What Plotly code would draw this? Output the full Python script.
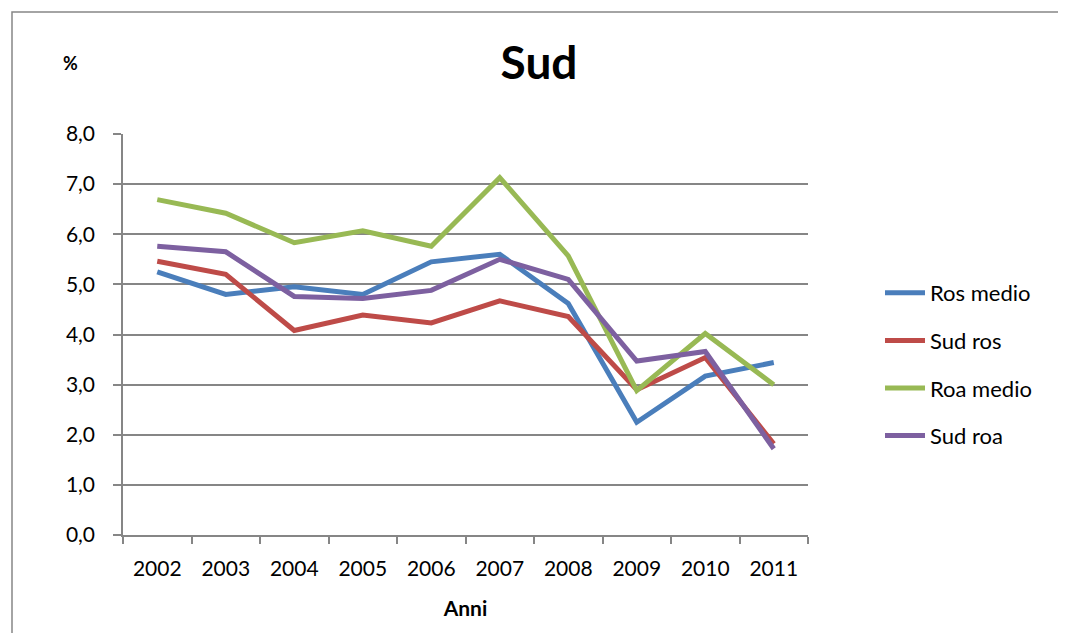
import plotly.graph_objects as go

years = ['2002', '2003', '2004', '2005', '2006', '2007', '2008', '2009', '2010', '2011']

ros_medio = [5.25, 4.80, 4.95, 4.80, 5.45, 5.60, 4.62, 2.25, 3.17, 3.44]
sud_ros = [5.46, 5.20, 4.08, 4.39, 4.23, 4.67, 4.36, 2.90, 3.54, 1.82]
roa_medio = [6.69, 6.42, 5.83, 6.07, 5.76, 7.13, 5.57, 2.88, 4.02, 3.00]
sud_roa = [5.76, 5.65, 4.76, 4.72, 4.88, 5.50, 5.10, 3.47, 3.66, 1.72]

series = [
    ('Ros medio', ros_medio, '#4A7EBB'),
    ('Sud ros', sud_ros, '#BE4B48'),
    ('Roa medio', roa_medio, '#98B954'),
    ('Sud roa', sud_roa, '#7D60A0'),
]

FONT = 'Lato'
GRID = '#868686'

fig = go.Figure()
for name, values, color in series:
    fig.add_trace(go.Scatter(
        x=years, y=values, name=name, mode='lines',
        legendgroup=name,
        line=dict(color=color, width=5),
    ))

# the page body adds an 8px margin, so work in page pixels and shift
OFF = 8
W, H = 1066 - OFF, 633 - OFF
L, R, T, B = 123 - OFF, 258, 134 - OFF, 98
pw, ph = W - L - R, H - T - B


def px_x(p):
    return (p - OFF - L) / pw


def px_y(p):
    return (H - B - (p - OFF)) / ph


fig.update_layout(
    width=W, height=H,
    margin=dict(l=L, r=R, t=T, b=B),
    paper_bgcolor='white', plot_bgcolor='white',
    separators=',.',
    font=dict(family=FONT, size=21, color='black'),
    title=dict(text='<b>Sud</b>', x=(539 - OFF) / W, xanchor='center',
               y=1 - (63 - OFF) / H, yanchor='middle',
               font=dict(size=46, family=FONT)),
    xaxis=dict(
        type='category', tickson='boundaries', range=[-0.5, 9.5],
        showline=True, linecolor=GRID, linewidth=1.5,
        ticks='outside', ticklen=7, tickcolor=GRID, tickwidth=1.5,
        ticklabelstandoff=14,
        showgrid=False,
        title=dict(text='<b>Anni</b>', font=dict(size=21), standoff=22),
    ),
    yaxis=dict(
        range=[0, 8], dtick=1, tickformat='.1f',
        showline=True, linecolor=GRID, linewidth=1.5,
        ticks='outside', ticklen=8, tickcolor=GRID, tickwidth=1.5,
        ticklabelstandoff=14,
        showgrid=True, gridcolor=GRID, gridwidth=1.5,
        zeroline=False,
    ),
    legend=dict(
        x=px_x(880), xanchor='left', y=px_y(272), yanchor='top',
        font=dict(size=22), tracegroupgap=16, itemwidth=40,
        bgcolor='rgba(0,0,0,0)',
    ),
    annotations=[dict(
        text='<b>%</b>', xref='paper', yref='paper',
        x=px_x(70), y=px_y(63), xanchor='center', yanchor='middle',
        showarrow=False, font=dict(size=18),
    )],
    shapes=[dict(
        type='rect', xref='paper', yref='paper',
        x0=px_x(12), x1=px_x(1062), y0=px_y(650), y1=px_y(12),
        line=dict(color='#868686', width=1.5), layer='below',
    )],
)

fig.write_html('out.html')
